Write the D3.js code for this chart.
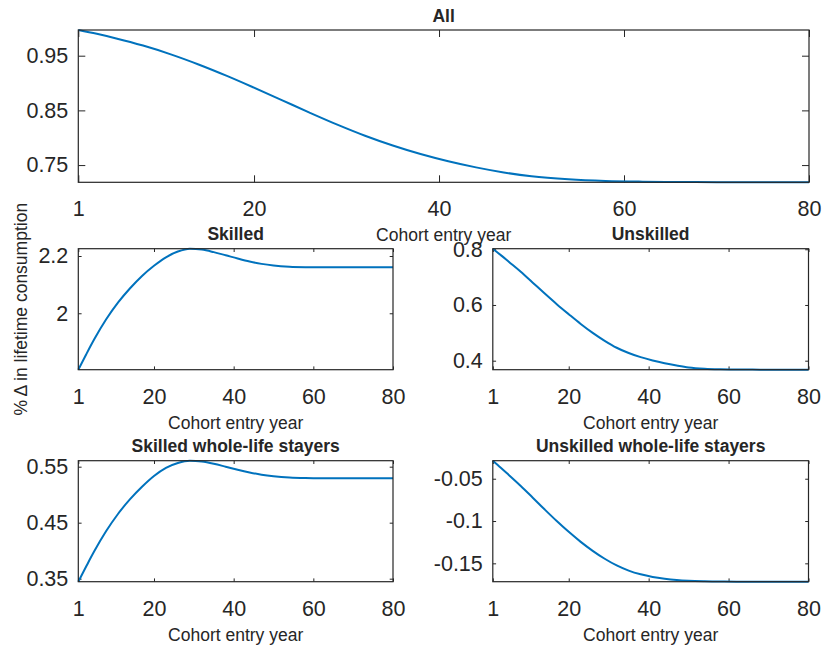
<!DOCTYPE html>
<html><head><meta charset="utf-8">
<script src="https://cdn.jsdelivr.net/npm/d3@7/dist/d3.min.js"></script>
<style>
body{margin:0;background:#fff}
text{font-family:"Liberation Sans",Arial,Helvetica,sans-serif;fill:#262626}
</style>
</head><body>
<svg id="chart" width="825" height="650"></svg>
<script>
// ---- data ----
const years = [1,3,5,8,11,14,17,20,23,26,29,32,35,38,41,44,47,50,54,58,62,66,70,75,80];
const allVals = [0.997,0.990,0.982,0.9685,0.9525,0.934,0.9135,0.8915,0.8688,0.846,0.824,0.8037,0.7858,0.7702,0.757,0.7458,0.7365,0.7295,0.724,0.721,0.7197,0.7191,0.7188,0.7186,0.7185];
const skilledVals = [1.803,1.857,1.909,1.979,2.038,2.0875,2.1305,2.166,2.1955,2.2155,2.2255,2.2225,2.2135,2.2025,2.1912,2.1808,2.1725,2.1668,2.1626,2.1611,2.1607,2.1606,2.1606,2.1606,2.1606];
const unskilledVals = [0.802,0.779,0.755,0.719,0.680,0.641,0.603,0.567,0.532,0.500,0.4715,0.4465,0.4275,0.4128,0.401,0.3912,0.383,0.376,0.3712,0.3692,0.3684,0.368,0.3678,0.3677,0.3677];
const skilledStayVals = [0.3446,0.3721,0.3988,0.435,0.466,0.492,0.5142,0.5334,0.548,0.5567,0.5607,0.5593,0.5553,0.55,0.5445,0.5397,0.5358,0.533,0.5306,0.5296,0.5293,0.5293,0.5293,0.5293,0.5293];
const unskilledStayVals = [-0.0287,-0.037,-0.0456,-0.0586,-0.0724,-0.0864,-0.1,-0.1128,-0.1246,-0.1352,-0.1446,-0.1525,-0.1586,-0.163,-0.1661,-0.1682,-0.1697,-0.1706,-0.1712,-0.1715,-0.1717,-0.1717,-0.1717,-0.1717,-0.1717];

const xTicks = [1,20,40,60,80];
const allTicks = [0.75,0.85,0.95];
const allTickLabels = ["0.75","0.85","0.95"];
const skilledTicks = [2,2.2];
const skilledTickLabels = ["2","2.2"];
const unskilledTicks = [0.4,0.6,0.8];
const unskilledTickLabels = ["0.4","0.6","0.8"];
const skilledStayTicks = [0.35,0.45,0.55];
const skilledStayTickLabels = ["0.35","0.45","0.55"];
const unskilledStayTicks = [-0.15,-0.1,-0.05];
const unskilledStayTickLabels = ["-0.15","-0.1","-0.05"];

const titles = ["All","Skilled","Unskilled","Skilled whole-life stayers","Unskilled whole-life stayers"];
const xLabel = "Cohort entry year";
const yLabel = "%\u2009\u0394 in lifetime consumption";

// ---- layout ----
const panels = [
  {vals: allVals, ticks: allTicks, labels: allTickLabels, title: titles[0], x0: 78.3, x1: 809, y0: 30, y1: 182.3, tl: 7},
  {vals: skilledVals, ticks: skilledTicks, labels: skilledTickLabels, title: titles[1], x0: 78.3, x1: 393, y0: 248.7, y1: 369.7, tl: 3.3},
  {vals: unskilledVals, ticks: unskilledTicks, labels: unskilledTickLabels, title: titles[2], x0: 492.8, x1: 808.5, y0: 248.7, y1: 369.7, tl: 3.3},
  {vals: skilledStayVals, ticks: skilledStayTicks, labels: skilledStayTickLabels, title: titles[3], x0: 78.3, x1: 393, y0: 460.7, y1: 581.7, tl: 3.3},
  {vals: unskilledStayVals, ticks: unskilledStayTicks, labels: unskilledStayTickLabels, title: titles[4], x0: 492.8, x1: 808.5, y0: 460.7, y1: 581.7, tl: 3.3}
];

const svg = d3.select("#chart");
const axisColor = "#262626";
const tickFont = 21.5, labelFont = 17.5;

panels.forEach(p => {
  const x = d3.scaleLinear().domain([1,80]).range([p.x0, p.x1]);
  const y = d3.scaleLinear().domain(d3.extent(p.vals)).range([p.y1, p.y0]);
  const g = svg.append("g");

  const ax = g.append("g").attr("transform", `translate(0,${p.y1})`)
    .call(d3.axisBottom(x).tickValues(xTicks).tickFormat(d3.format("d"))
      .tickSizeInner(-p.tl).tickSizeOuter(0).tickPadding(18.8));
  const at = g.append("g").attr("transform", `translate(0,${p.y0})`)
    .call(d3.axisTop(x).tickValues(xTicks).tickFormat("")
      .tickSizeInner(-p.tl).tickSizeOuter(0));
  const al = g.append("g").attr("transform", `translate(${p.x0},0)`)
    .call(d3.axisLeft(y).tickValues(p.ticks).tickFormat((d,i) => p.labels[i])
      .tickSizeInner(-p.tl).tickSizeOuter(0).tickPadding(10));
  const ar = g.append("g").attr("transform", `translate(${p.x1},0)`)
    .call(d3.axisRight(y).tickValues(p.ticks).tickFormat("")
      .tickSizeInner(-p.tl).tickSizeOuter(0));

  [ax, at, al, ar].forEach(a => {
    a.select(".domain").remove();
    a.selectAll("line").attr("stroke", axisColor).attr("stroke-width", 1);
    a.selectAll("text").attr("fill", axisColor).style("font-size", tickFont + "px")
      .style("font-family", '"Liberation Sans", Arial, sans-serif');
  });

  const line = d3.line().x((d,i) => x(years[i])).y(d => y(d)).curve(d3.curveMonotoneX);
  g.append("path").datum(p.vals).attr("d", line)
    .attr("fill", "none").attr("stroke", "#0072BD").attr("stroke-width", 2)
    .attr("stroke-linejoin", "round");

  g.append("rect").attr("x", p.x0).attr("y", p.y0)
    .attr("width", p.x1 - p.x0).attr("height", p.y1 - p.y0)
    .attr("fill", "none").attr("stroke", axisColor).attr("stroke-width", 1.2);

  g.append("text").attr("x", (p.x0 + p.x1) / 2).attr("y", p.y0 - 8.5)
    .attr("text-anchor", "middle").style("font-size", labelFont + "px")
    .style("font-weight", "bold").attr("fill", "#000").text(p.title);

  g.append("text").attr("x", (p.x0 + p.x1) / 2).attr("y", p.y1 + 59)
    .attr("text-anchor", "middle").style("font-size", labelFont + "px")
    .text(xLabel);
});

svg.append("text")
  .attr("transform", `translate(27,${(248.7 + 369.7) / 2}) rotate(-90)`)
  .attr("text-anchor", "middle").style("font-size", labelFont + "px")
  .text(yLabel);
</script>
</body></html>
